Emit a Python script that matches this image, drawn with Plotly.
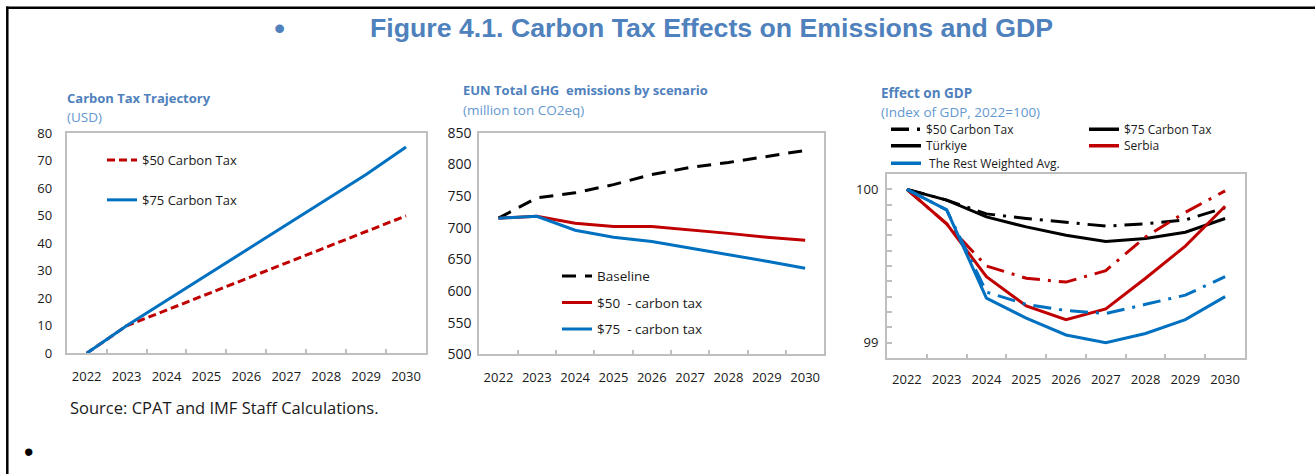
import plotly.graph_objects as go

W, H = 1315, 474

years = ["2022", "2023", "2024", "2025", "2026", "2027", "2028", "2029", "2030"]

# Panel 1: carbon tax trajectory (USD)
tax50 = [0, 10, 15.7, 21.4, 27.1, 32.9, 38.6, 44.3, 50]
tax75 = [0, 10, 19.2, 28.3, 37.5, 46.7, 55.8, 65.0, 75]

# Panel 2: EUN total GHG emissions (million ton CO2eq)
ghg_base = [715, 747, 755, 768, 784, 795, 803, 812, 822]
ghg_50 = [715, 718, 707, 702, 702, 697, 691, 685, 680]
ghg_75 = [715, 718, 696, 685, 678, 668, 657, 647, 636]

# Panel 3: GDP index (2022=100)
tur_50 = [100, 99.93, 99.84, 99.81, 99.785, 99.76, 99.775, 99.80, 99.88]
tur_75 = [100, 99.93, 99.82, 99.755, 99.70, 99.66, 99.68, 99.72, 99.81]
srb_50 = [100, 99.775, 99.50, 99.42, 99.395, 99.47, 99.69, 99.85, 99.99]
srb_75 = [100, 99.775, 99.43, 99.24, 99.15, 99.22, 99.42, 99.63, 99.89]
rest_50 = [100, 99.866, 99.33, 99.25, 99.21, 99.19, 99.25, 99.31, 99.43]
rest_75 = [100, 99.866, 99.29, 99.16, 99.05, 99.00, 99.06, 99.15, 99.30]

RED = "#C00000"
BLUE = "#0070C0"
BLACK = "#000000"
TITLE = "#4F81BD"
SUB = "#6498D0"
GRID = "#BFBFBF"
TXT = "#1a1a1a"
FONT = "Open Sans"
DASHDOT = "18px,8px,3px,8px"


def px_x(v):
    return v / W


def px_y(v):
    return 1 - v / H


fig = go.Figure()

# Panel 1
fig.add_trace(go.Scatter(x=years, y=tax50, mode="lines", name="$50 Carbon Tax",
                         line=dict(color=RED, width=3, dash="8px,4px"),
                         xaxis="x", yaxis="y", legend="legend", legendgroup="a"))
fig.add_trace(go.Scatter(x=years, y=tax75, mode="lines", name="$75 Carbon Tax",
                         line=dict(color=BLUE, width=3),
                         xaxis="x", yaxis="y", legend="legend", legendgroup="b"))

# Panel 2
fig.add_trace(go.Scatter(x=years, y=ghg_base, mode="lines", name="Baseline",
                         line=dict(color=BLACK, width=3, dash="14px,9px"),
                         xaxis="x2", yaxis="y2", legend="legend2", legendgroup="c"))
fig.add_trace(go.Scatter(x=years, y=ghg_50, mode="lines", name="$50 \u00a0- carbon tax",
                         line=dict(color=RED, width=3),
                         xaxis="x2", yaxis="y2", legend="legend2", legendgroup="d"))
fig.add_trace(go.Scatter(x=years, y=ghg_75, mode="lines", name="$75 \u00a0- carbon tax",
                         line=dict(color=BLUE, width=3),
                         xaxis="x2", yaxis="y2", legend="legend2", legendgroup="e"))

# Panel 3 data
for ys, col, dash in [(tur_50, BLACK, DASHDOT), (tur_75, BLACK, "solid"),
                      (srb_50, RED, DASHDOT), (srb_75, RED, "solid"),
                      (rest_50, BLUE, DASHDOT), (rest_75, BLUE, "solid")]:
    fig.add_trace(go.Scatter(x=years, y=ys, mode="lines", showlegend=False,
                             line=dict(color=col, width=3, dash=dash),
                             xaxis="x3", yaxis="y3"))

# Panel 3 legend keys (one legend per cell of the 2-column key)
gdp_keys = [("$50 Carbon Tax", BLACK, DASHDOT, "legend3"),
            ("$75 Carbon Tax", BLACK, "solid", "legend4"),
            ("Türkiye", BLACK, "solid", "legend5"),
            ("Serbia", RED, "solid", "legend6"),
            ("\u00a0The Rest Weighted Avg.", BLUE, "solid", "legend7")]
for name, col, dash, lg in gdp_keys:
    fig.add_trace(go.Scatter(x=[None], y=[None], mode="lines", name=name,
                             line=dict(color=col, width=3.5, dash=dash),
                             xaxis="x3", yaxis="y3", legend=lg))

xcommon = dict(type="category", range=[-0.5, 8.5], tickson="boundaries",
               ticks="inside", ticklen=4, tickcolor=GRID, tickwidth=1.5, tickangle=0,
               showline=True, linecolor=GRID, linewidth=2, mirror=True,
               showgrid=False, zeroline=False, automargin=False,
               tickfont=dict(family=FONT, size=13, color=TXT))
ycommon = dict(showline=True, linecolor=GRID, linewidth=2, mirror=True,
               showgrid=False, zeroline=False, automargin=False)
yfont = dict(family=FONT, size=13, color=TXT)


def small_legend(x, ytop):
    return dict(x=px_x(x), y=px_y(ytop), xanchor="left", yanchor="top",
                bgcolor="rgba(0,0,0,0)", font=dict(family=FONT, size=12, color=TXT))


fig.update_layout(
    width=W, height=H,
    margin=dict(l=0, r=0, t=0, b=0, autoexpand=False),
    paper_bgcolor="white", plot_bgcolor="white",
    font=dict(family=FONT, color=TXT),
    xaxis=dict(domain=[px_x(66.7), px_x(426)], anchor="y", ticklabelstandoff=10, **xcommon),
    yaxis=dict(domain=[px_y(353.3), px_y(133.3)], anchor="x", range=[0, 80], dtick=10,
               ticks="", ticklabelstandoff=10, tickfont=yfont, **ycommon),
    xaxis2=dict(domain=[px_x(479.3), px_x(824.3)], anchor="y2", ticklabelstandoff=10, **xcommon),
    yaxis2=dict(domain=[px_y(354.3), px_y(132.7)], anchor="x2", range=[500, 850], dtick=50,
                ticks="", ticklabelstandoff=3,
                tickfont=dict(family=FONT, size=14, color=TXT), **ycommon),
    xaxis3=dict(domain=[px_x(887), px_x(1245)], anchor="y3", ticklabelstandoff=8, **xcommon),
    yaxis3=dict(domain=[px_y(358), px_y(174)], anchor="x3", range=[98.9, 100.1],
                tick0=99, dtick=1, ticks="inside", ticklen=5, tickcolor=GRID, tickwidth=1.5,
                minor=dict(tick0=99, dtick=0.1, ticks="inside", ticklen=5, tickcolor=GRID, tickwidth=1.5),
                ticklabelstandoff=4, tickfont=yfont, **ycommon),
    legend=dict(x=px_x(102), y=px_y(145), xanchor="left", yanchor="top",
                bgcolor="rgba(0,0,0,0)", tracegroupgap=20, traceorder="grouped",
                font=dict(family=FONT, size=13, color=TXT)),
    legend2=dict(x=px_x(557), y=px_y(260.7), xanchor="left", yanchor="top",
                 bgcolor="rgba(0,0,0,0)", tracegroupgap=6, traceorder="grouped",
                 font=dict(family=FONT, size=13.5, color=TXT)),
    legend3=small_legend(886, 114.7),
    legend4=small_legend(1084, 114.7),
    legend5=small_legend(886, 131.3),
    legend6=small_legend(1084, 131.3),
    legend7=small_legend(886, 148.7),
)

ann = []


def text(x, y, s, size, color, family=FONT, xanchor="left"):
    ann.append(dict(x=px_x(x), y=px_y(y), xref="paper", yref="paper", text=s,
                    showarrow=False, xanchor=xanchor, yanchor="middle",
                    font=dict(family=family, size=size, color=color)))


text(711.5, 27.7, "<b>Figure 4.1. Carbon Tax Effects on Emissions and GDP</b>", 26.7, TITLE,
     family="Liberation Sans", xanchor="center")
text(279, 28, "•", 32, TITLE, family="Liberation Sans", xanchor="center")
text(28, 452, "•", 27, BLACK, family="Liberation Sans", xanchor="center")

text(65, 98, "<b>Carbon Tax Trajectory</b>", 13, TITLE)
text(65, 116.5, "(USD)", 13.5, SUB)
text(461, 90, "<b>EUN Total GHG  emissions by scenario</b>", 13, TITLE)
text(461, 109.5, "(million ton CO2eq)", 13.5, SUB)
text(879, 93.5, "<b>Effect on GDP</b>", 13.5, TITLE)
text(879, 112.5, "(Index of GDP, 2022=100)", 13.5, SUB)
text(68, 407, "Source: CPAT and IMF Staff Calculations.", 16.5, TXT)

fig.update_layout(annotations=ann)

fig.update_layout(shapes=[
    dict(type="line", xref="paper", yref="paper", x0=px_x(6.3), x1=1, y0=px_y(7.7), y1=px_y(7.7),
         line=dict(color=BLACK, width=2.5)),
    dict(type="line", xref="paper", yref="paper", x0=px_x(7.3), x1=px_x(7.3), y0=0, y1=px_y(6.5),
         line=dict(color=BLACK, width=2.5)),
])

fig.write_html("out.html")
